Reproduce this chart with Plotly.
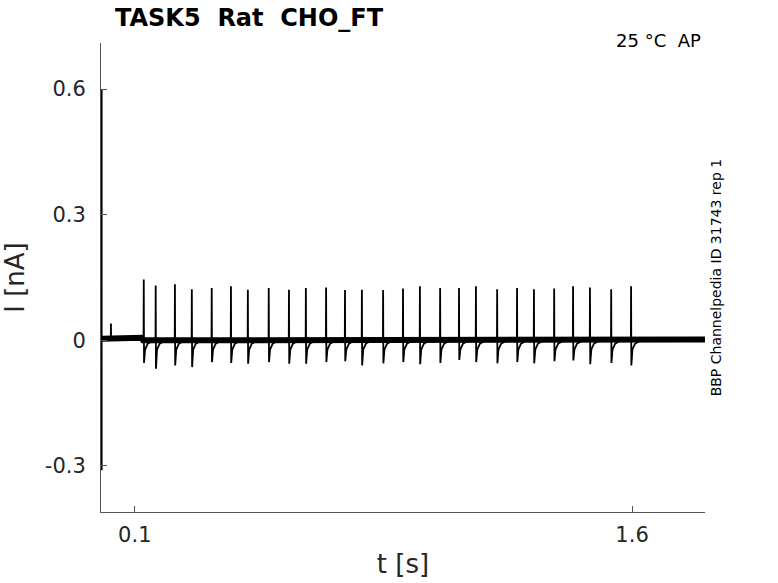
import plotly.graph_objects as go

# spike train (time in s, current in nA)
spike_t = [0.127, 0.163, 0.221, 0.272, 0.332, 0.390, 0.441, 0.504, 0.565, 0.616,
           0.677, 0.734, 0.785, 0.849, 0.909, 0.960, 1.021, 1.078, 1.129, 1.193,
           1.253, 1.304, 1.365, 1.422, 1.473, 1.537, 1.597]
spike_peak = [0.145, 0.131, 0.134, 0.122, 0.125, 0.129, 0.121, 0.125, 0.121, 0.125,
              0.126, 0.120, 0.121, 0.120, 0.124, 0.129, 0.125, 0.125, 0.129, 0.122,
              0.125, 0.122, 0.124, 0.129, 0.126, 0.122, 0.129]
spike_trough = [-0.054, -0.068, -0.060, -0.064, -0.052, -0.054, -0.056, -0.052, -0.056, -0.056,
                -0.052, -0.050, -0.060, -0.055, -0.052, -0.057, -0.054, -0.047, -0.052, -0.055,
                -0.052, -0.055, -0.050, -0.048, -0.057, -0.054, -0.060]

# baseline level before / during / after the train
base_t = [0.0, 0.120, 0.125, 1.62, 1.82]
base_I = [0.004, 0.006, 0.000, 0.000, 0.002]

# capacitive transient at the start and small artefact
transient_t = [0.0, 0.0, 0.0]
transient_I = [-0.31, 0.60, 0.004]
blip_t = 0.028
blip_I = 0.040

# build the spike trace
tr_t = list(transient_t) + [blip_t - 0.0005, blip_t, blip_t + 0.0005]
tr_I = list(transient_I) + [0.005, blip_I, 0.005]
for t, p, m in zip(spike_t, spike_peak, spike_trough):
    tr_t += [t - 0.0006, t, t + 0.0008, t + 0.004, t + 0.012, t + 0.03]
    tr_I += [0.0, p, m, -0.022, -0.008, 0.0]
tr_t += [1.82]
tr_I += [0.002]

fig = go.Figure()
# noise band of the recording
fig.add_trace(go.Scatter(x=base_t, y=base_I, mode='lines',
                         line=dict(color='black', width=6), hoverinfo='skip'))
fig.add_trace(go.Scatter(x=tr_t, y=tr_I, mode='lines',
                         line=dict(color='black', width=1.8)))

axis_col = '#262626'
font = 'DejaVu Sans'

fig.update_layout(
    width=778, height=583,
    margin=dict(l=101, r=73, t=43, b=71),
    plot_bgcolor='white', paper_bgcolor='white',
    showlegend=False,
    font=dict(family=font, color=axis_col),
    xaxis=dict(range=[-0.002, 1.82], tickvals=[0.1, 1.6], ticktext=['0.1', '1.6'],
               ticks='inside', ticklen=6, tickcolor='#555', showgrid=False, zeroline=False,
               showline=True, linecolor='#555', linewidth=1, automargin=False,
               tickfont=dict(size=21), ticklabelstandoff=4,
               title=dict(text='t [s]', font=dict(size=26), standoff=8)),
    yaxis=dict(range=[-0.41, 0.71], tickvals=[-0.3, 0, 0.3, 0.6],
               ticktext=['-0.3', '0', '0.3', '0.6'],
               ticks='inside', ticklen=6, tickcolor='#555', showgrid=False, zeroline=False,
               showline=True, linecolor='#555', linewidth=1, automargin=False,
               tickfont=dict(size=21), ticklabelstandoff=10,
               title=dict(text='I [nA]', font=dict(size=26), standoff=12)),
    annotations=[
        dict(text='<b>TASK5\u00a0\u00a0Rat\u00a0\u00a0CHO_FT</b>', x=0.02, y=1, xref='paper',
             yref='paper', xanchor='left', yanchor='middle', yshift=25, showarrow=False,
             font=dict(size=24, color='black')),
        dict(text='25 °C\u00a0\u00a0AP', x=0.997, y=1, xref='paper', yref='paper',
             xanchor='right', yanchor='middle', yshift=3, showarrow=False,
             font=dict(size=18, color='black')),
        dict(text='BBP Channelpedia ID 31743 rep 1', x=1.018, y=0.5, xref='paper',
             yref='paper', xanchor='center', yanchor='middle', textangle=-90,
             showarrow=False, font=dict(size=14, color='black')),
    ],
)

# drop the default page margin so the figure sits at the window corner
fig.write_html("out.html", config={'displayModeBar': False},
               post_script="document.body.style.margin='0';")
